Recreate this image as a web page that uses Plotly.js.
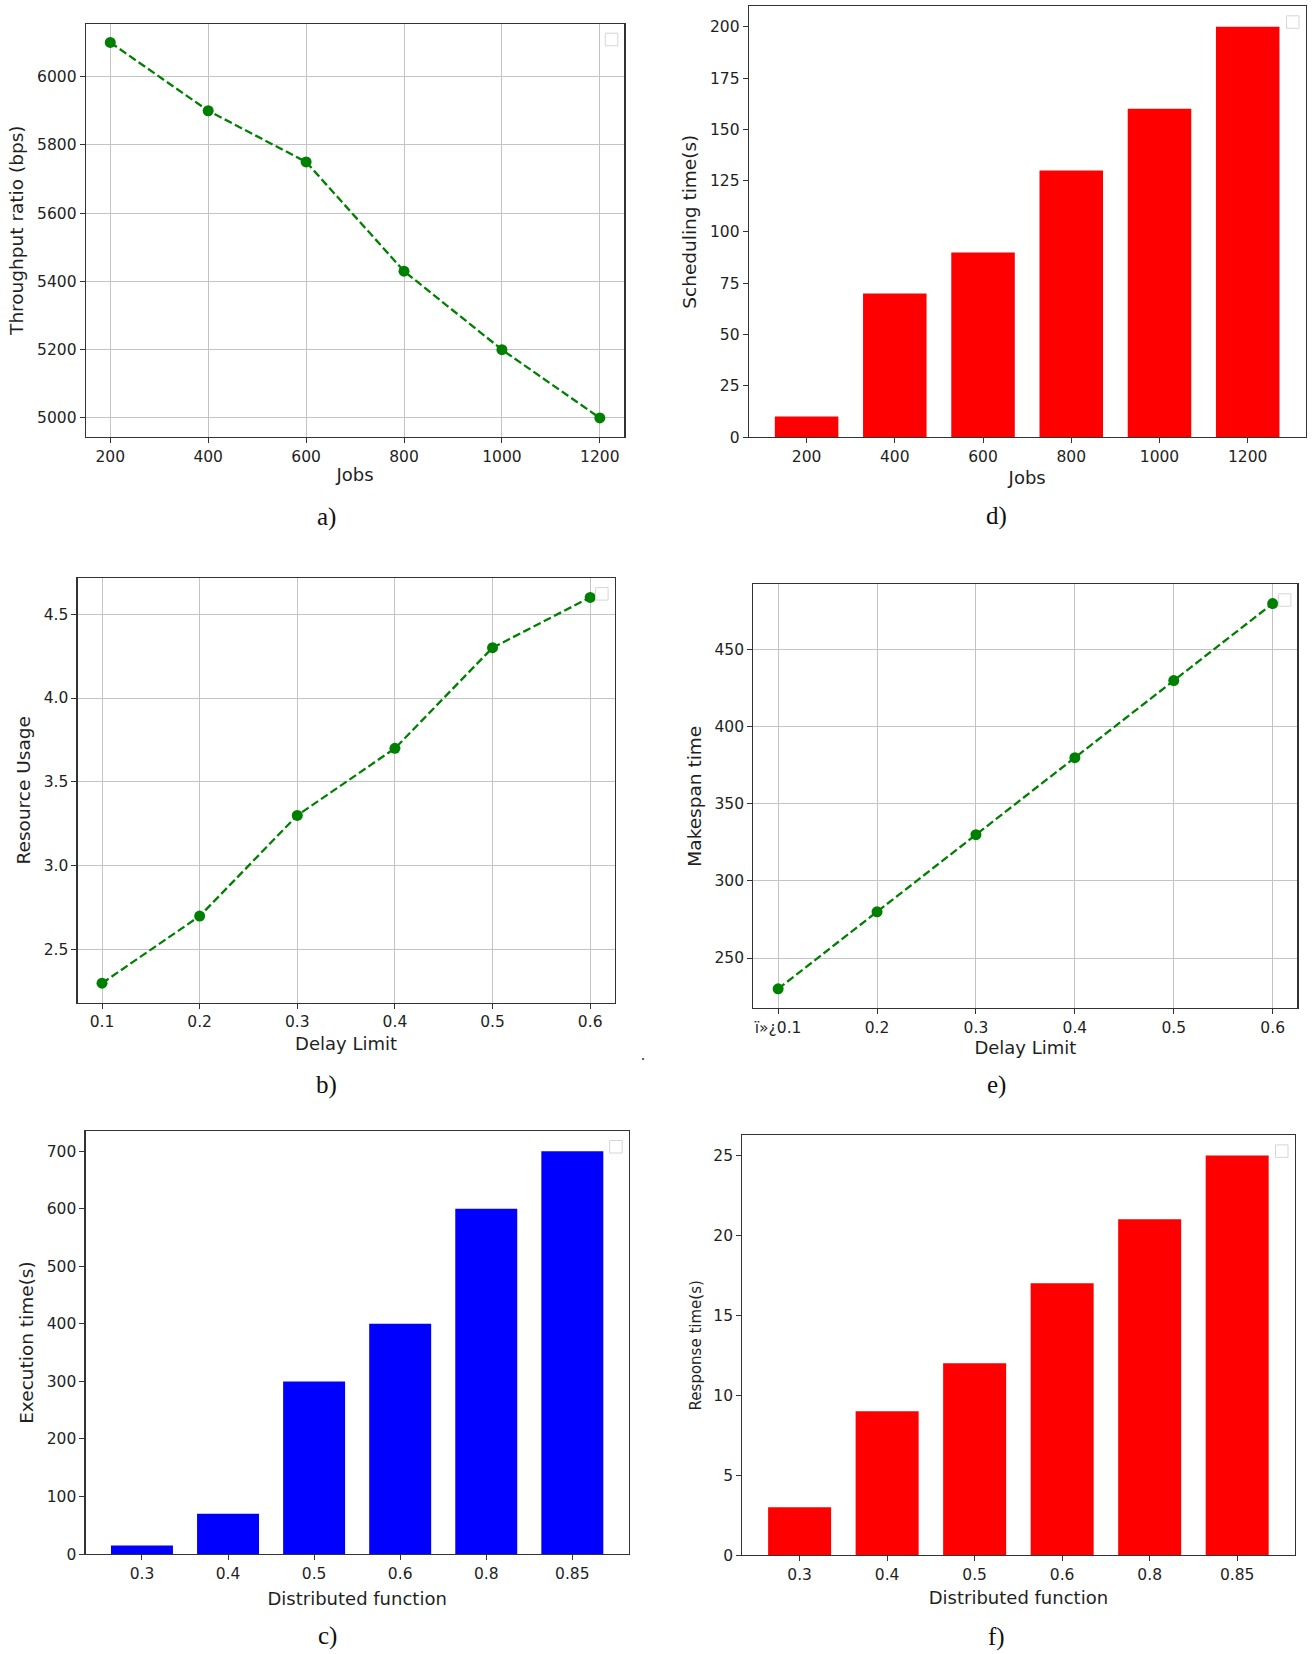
<!DOCTYPE html>
<html>
<head>
<meta charset="utf-8">
<script src="https://cdn.plot.ly/plotly-3.0.1.min.js"></script>
<style>
  html, body { margin: 0; padding: 0; background: #ffffff; }
  #chart { width: 1312px; height: 1654px; }
</style>
</head>
<body>
<div id="chart"></div>
<script>
// ---- data ----
const jobs = [200, 400, 600, 800, 1000, 1200];
const throughputRatio = [6100, 5900, 5750, 5430, 5200, 5000];
const schedulingTime = [10, 70, 90, 130, 160, 200];

const delayLimit = [0.1, 0.2, 0.3, 0.4, 0.5, 0.6];
const resourceUsage = [2.3, 2.7, 3.3, 3.7, 4.3, 4.6];
const makespanTime = [230, 280, 330, 380, 430, 480];
const delayTickTextB = ['0.1', '0.2', '0.3', '0.4', '0.5', '0.6'];
const delayTickTextE = ['\u00ef\u00bb\u00bf0.1', '0.2', '0.3', '0.4', '0.5', '0.6'];

const distributedFunction = ['0.3', '0.4', '0.5', '0.6', '0.8', '0.85'];
const executionTime = [15, 70, 300, 400, 600, 700];
const responseTime = [3, 9, 12, 17, 21, 25];

const panelLabels = ['a)', 'd)', 'b)', 'e)', 'c)', 'f)'];

// ---- page geometry ----
const W = 1312, H = 1654;
const xd = (l, r) => [l / W, r / W];
const yd = (t, b) => [1 - b / H, 1 - t / H];

const TXT = '#1f1f1f';
const SANS = 'DejaVu Sans, sans-serif';
const GREEN = '#008000';

function axisBase(extra) {
  return Object.assign({
    showline: true, mirror: true, linecolor: '#333333', linewidth: 1.2,
    ticks: 'outside', ticklen: 5, tickwidth: 1, tickcolor: '#333333',
    tickfont: { family: SANS, size: 15.5, color: TXT },
    zeroline: false, showgrid: false, fixedrange: true,
  }, extra);
}
function axisTitle(text, size, standoff) {
  return { text: text, font: { family: SANS, size: size, color: TXT }, standoff: standoff };
}

const lineStyle = { color: GREEN, width: 2.3, dash: '8px,3.5px' };
const markerStyle = { color: GREEN, size: 11 };

const traces = [
  // a) throughput vs jobs
  { type: 'scatter', mode: 'lines+markers', x: jobs, y: throughputRatio,
    line: lineStyle, marker: markerStyle, xaxis: 'x', yaxis: 'y', showlegend: false },
  // d) scheduling time vs jobs
  { type: 'bar', x: jobs.map(String), y: schedulingTime, width: 0.72,
    marker: { color: '#ff0000' }, xaxis: 'x2', yaxis: 'y2', showlegend: false },
  // b) resource usage vs delay limit
  { type: 'scatter', mode: 'lines+markers', x: delayLimit, y: resourceUsage,
    line: lineStyle, marker: markerStyle, xaxis: 'x3', yaxis: 'y3', showlegend: false },
  // e) makespan vs delay limit
  { type: 'scatter', mode: 'lines+markers', x: delayLimit, y: makespanTime,
    line: lineStyle, marker: markerStyle, xaxis: 'x4', yaxis: 'y4', showlegend: false },
  // c) execution time vs distributed function
  { type: 'bar', x: distributedFunction, y: executionTime, width: 0.72,
    marker: { color: '#0000ff' }, xaxis: 'x5', yaxis: 'y5', showlegend: false },
  // f) response time vs distributed function
  { type: 'bar', x: distributedFunction, y: responseTime, width: 0.72,
    marker: { color: '#ff0000' }, xaxis: 'x6', yaxis: 'y6', showlegend: false },
];

const gridOn = { showgrid: true, gridcolor: '#c4c4c4', gridwidth: 1 };

const layout = {
  width: W, height: H,
  margin: { l: 0, r: 0, t: 0, b: 0 },
  paper_bgcolor: '#ffffff', plot_bgcolor: '#ffffff',
  showlegend: false,
  font: { family: SANS, color: TXT },

  // a)
  xaxis: axisBase(Object.assign({ domain: xd(85.8, 624.3), anchor: 'y', range: [150, 1250],
    tickvals: jobs, title: axisTitle('Jobs', 18, 3) }, gridOn)),
  yaxis: axisBase(Object.assign({ domain: yd(23.7, 436.7), anchor: 'x', range: [4945, 6155],
    tickvals: [5000, 5200, 5400, 5600, 5800, 6000],
    title: axisTitle('Throughput ratio (bps)', 18.5, 8) }, gridOn)),

  // d)
  xaxis2: axisBase({ domain: xd(748.8, 1305.5), anchor: 'y2', type: 'category',
    range: [-0.655, 5.655], title: axisTitle('Jobs', 18, 6) }),
  yaxis2: axisBase({ domain: yd(6.3, 437.1), anchor: 'x2', range: [0, 210],
    tickvals: [0, 25, 50, 75, 100, 125, 150, 175, 200],
    title: axisTitle('Scheduling time(s)', 18.5, 8) }),

  // b)
  xaxis3: axisBase(Object.assign({ domain: xd(77.6, 614.6), anchor: 'y3', range: [0.075, 0.625],
    tickvals: delayLimit, ticktext: delayTickTextB, title: axisTitle('Delay Limit', 18, 7) }, gridOn)),
  yaxis3: axisBase(Object.assign({ domain: yd(578.1, 1002.5), anchor: 'x3', range: [2.185, 4.715],
    tickvals: [2.5, 3.0, 3.5, 4.0, 4.5], tickformat: '.1f',
    title: axisTitle('Resource Usage', 18.5, 8) }, gridOn)),

  // e)
  xaxis4: axisBase(Object.assign({ domain: xd(753.4, 1297.4), anchor: 'y4', range: [0.075, 0.625],
    tickvals: delayLimit, ticktext: delayTickTextE, title: axisTitle('Delay Limit', 18, 3) }, gridOn)),
  yaxis4: axisBase(Object.assign({ domain: yd(584.3, 1008.1), anchor: 'x4', range: [217.5, 492.5],
    tickvals: [250, 300, 350, 400, 450],
    title: axisTitle('Makespan time', 18.5, 8) }, gridOn)),

  // c)
  xaxis5: axisBase({ domain: xd(85.6, 628.7), anchor: 'y5', type: 'category',
    range: [-0.655, 5.655], title: axisTitle('Distributed function', 18, 10) }),
  yaxis5: axisBase({ domain: yd(1131.0, 1554.1), anchor: 'x5', range: [0, 735],
    tickvals: [0, 100, 200, 300, 400, 500, 600, 700],
    title: axisTitle('Execution time(s)', 18.5, 8) }),

  // f)
  xaxis6: axisBase({ domain: xd(742.3, 1294.5), anchor: 'y6', type: 'category',
    range: [-0.655, 5.655], title: axisTitle('Distributed function', 18, 8) }),
  yaxis6: axisBase({ domain: yd(1135.4, 1555.2), anchor: 'x6', range: [0, 26.25],
    tickvals: [0, 5, 10, 15, 20, 25],
    title: axisTitle('Response time(s)', 15, 8) }),

  annotations: [],
  shapes: [],
};

// panel captions under each chart
const captionPos = [[326.5, 517], [996, 516], [326.5, 1085], [996, 1085], [327, 1636], [996, 1637]];
panelLabels.forEach((lab, i) => {
  layout.annotations.push({
    text: lab, xref: 'paper', yref: 'paper',
    x: captionPos[i][0] / W, y: 1 - captionPos[i][1] / H,
    xanchor: 'center', yanchor: 'middle', showarrow: false,
    font: { family: 'Liberation Serif, Times New Roman, serif', size: 25, color: '#111111' },
  });
});
layout.annotations.push({
  text: '.', xref: 'paper', yref: 'paper', x: 642.5 / W, y: 1 - 1054 / H,
  xanchor: 'center', yanchor: 'middle', showarrow: false,
  font: { family: 'Liberation Serif, serif', size: 16, color: '#333333' },
});

// empty legend frame in each panel's top-right corner
['', '2', '3', '4', '5', '6'].forEach(s => {
  layout.shapes.push({
    type: 'rect', xref: 'x' + s + ' domain', yref: 'y' + s + ' domain',
    xsizemode: 'pixel', ysizemode: 'pixel', xanchor: 1, yanchor: 1,
    x0: -19, x1: -6.5, y0: -22, y1: -9.5,
    line: { color: '#d6d6d6', width: 1 }, fillcolor: '#ffffff', layer: 'above',
  });
});

Plotly.newPlot('chart', traces, layout, { staticPlot: true, displayModeBar: false });
</script>
</body>
</html>
